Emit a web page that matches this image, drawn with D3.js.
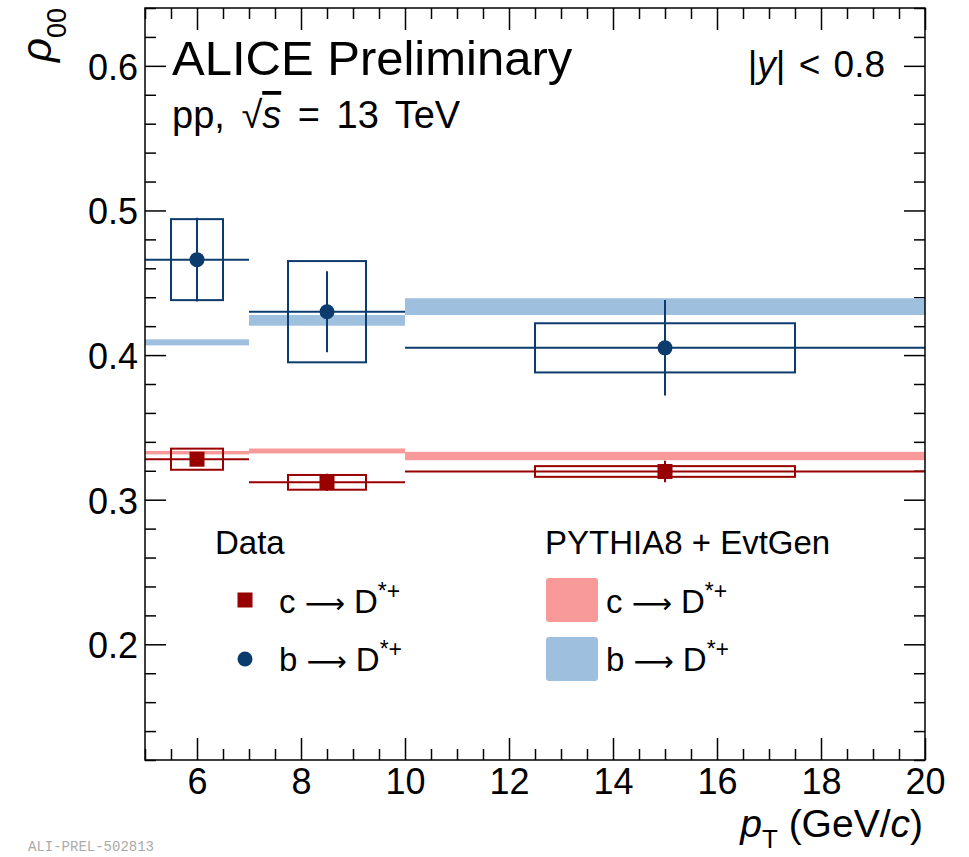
<!DOCTYPE html>
<html><head><meta charset="utf-8">
<script src="https://cdn.jsdelivr.net/npm/d3@7"></script>
<style>
body{margin:0;background:#fff}
text{font-family:"Liberation Sans",Arial,Helvetica,sans-serif;fill:#000}
</style>
</head><body>
<svg id="c" width="969" height="857"></svg>
<script>
// ---- data ----
const binLo = [5, 7, 10];
const binHi = [7, 10, 20];
const ptCenter = [6, 8.5, 15];
const systHalfWidth = [0.5, 0.75, 2.5];
// measured c -> D*+
const cVal  = [0.328, 0.312, 0.3195];
const cStat = [0.004, 0.006, 0.0075];
const cSyst = [0.0073, 0.0051, 0.0037];
// measured b -> D*+
const bVal  = [0.466, 0.430, 0.405];
const bStat = [0.029, 0.028, 0.033];
const bSyst = [0.028, 0.035, 0.017];
// PYTHIA8 + EvtGen
const cPy    = [0.3325, 0.3337, 0.3302];
const cPyUnc = [0.0012, 0.0017, 0.0029];
const bPy    = [0.4088, 0.4240, 0.4335];
const bPyUnc = [0.0021, 0.0037, 0.0058];
// ticks
const xTicks = [6, 8, 10, 12, 14, 16, 18, 20];
const yTicks = [0.2, 0.3, 0.4, 0.5, 0.6];

// ---- styles ----
const colC = "#990000", colB = "#0c3b6e";
const colCPy = "#f89a9a", colBPy = "#9fbfdf";

const svg = d3.select("#c");
const L = 145, R = 925, T = 8, B = 760;
const x = d3.scaleLinear().domain([5, 20]).range([L, R]);
const y = d3.scaleLinear().domain([0.12, 0.64]).range([B, T]);

const xMinor = d3.range(5, 20.001, 0.5).filter(v => Math.abs(v % 2) > 1e-6);
const yMinor = d3.range(0.12, 0.6401, 0.02).map(v => +v.toFixed(2)).filter(v => Math.abs(v * 10 - Math.round(v * 10)) > 1e-6);

function styleAxis(g) {
  g.select(".domain").remove();
  g.selectAll(".tick line").attr("stroke", "#000").attr("stroke-width", 1.5);
  g.selectAll(".tick text").style("font-size", "36px").attr("fill", "#000");
}
// bottom
svg.append("g").attr("transform", `translate(0,${B})`)
  .call(d3.axisBottom(x).tickValues(xTicks).tickSize(-22).tickPadding(8).tickFormat(d3.format("d"))).call(styleAxis);
svg.append("g").attr("transform", `translate(0,${B})`)
  .call(d3.axisBottom(x).tickValues(xMinor).tickSize(-11).tickFormat("")).call(styleAxis);
// top
svg.append("g").attr("transform", `translate(0,${T})`)
  .call(d3.axisTop(x).tickValues(xTicks).tickSize(-22).tickFormat("")).call(styleAxis);
svg.append("g").attr("transform", `translate(0,${T})`)
  .call(d3.axisTop(x).tickValues(xMinor).tickSize(-11).tickFormat("")).call(styleAxis);
// left
const gl = svg.append("g").attr("transform", `translate(${L},0)`)
  .call(d3.axisLeft(y).tickValues(yTicks).tickSize(-21).tickPadding(7).tickFormat(d3.format(".1f"))).call(styleAxis);
gl.selectAll(".tick text").attr("dy", "0.37em");
svg.append("g").attr("transform", `translate(${L},0)`)
  .call(d3.axisLeft(y).tickValues(yMinor).tickSize(-11).tickFormat("")).call(styleAxis);
// right
svg.append("g").attr("transform", `translate(${R},0)`)
  .call(d3.axisRight(y).tickValues(yTicks).tickSize(-21).tickFormat("")).call(styleAxis);
svg.append("g").attr("transform", `translate(${R},0)`)
  .call(d3.axisRight(y).tickValues(yMinor).tickSize(-11).tickFormat("")).call(styleAxis);

// ---- PYTHIA bands ----
function bands(vals, unc, col) {
  svg.append("g").selectAll("rect").data(vals).join("rect")
    .attr("x", (d, i) => x(binLo[i]))
    .attr("width", (d, i) => x(binHi[i]) - x(binLo[i]))
    .attr("y", (d, i) => y(d + unc[i]))
    .attr("height", (d, i) => y(d - unc[i]) - y(d + unc[i]))
    .attr("fill", col);
}
bands(bPy, bPyUnc, colBPy);
bands(cPy, cPyUnc, colCPy);

// ---- data ----
function dataSeries(vals, stat, syst, col, marker) {
  const g = svg.append("g");
  g.selectAll("rect.syst").data(vals).join("rect").attr("class", "syst")
    .attr("x", (d, i) => x(ptCenter[i] - systHalfWidth[i]))
    .attr("width", (d, i) => x(ptCenter[i] + systHalfWidth[i]) - x(ptCenter[i] - systHalfWidth[i]))
    .attr("y", (d, i) => y(d + syst[i]))
    .attr("height", (d, i) => y(d - syst[i]) - y(d + syst[i]))
    .attr("fill", "none").attr("stroke", col).attr("stroke-width", 2);
  g.selectAll("line.h").data(vals).join("line").attr("class", "h")
    .attr("x1", (d, i) => x(binLo[i])).attr("x2", (d, i) => x(binHi[i]))
    .attr("y1", d => y(d)).attr("y2", d => y(d))
    .attr("stroke", col).attr("stroke-width", 2);
  g.selectAll("line.v").data(vals).join("line").attr("class", "v")
    .attr("x1", (d, i) => x(ptCenter[i])).attr("x2", (d, i) => x(ptCenter[i]))
    .attr("y1", (d, i) => y(d + stat[i])).attr("y2", (d, i) => y(d - stat[i]))
    .attr("stroke", col).attr("stroke-width", 2);
  if (marker === "square") {
    g.selectAll("rect.m").data(vals).join("rect").attr("class", "m")
      .attr("x", (d, i) => x(ptCenter[i]) - 7.5).attr("y", d => y(d) - 7.5)
      .attr("width", 15).attr("height", 15).attr("fill", col);
  } else {
    g.selectAll("circle").data(vals).join("circle")
      .attr("cx", (d, i) => x(ptCenter[i])).attr("cy", d => y(d))
      .attr("r", 7.5).attr("fill", col);
  }
}
dataSeries(bVal, bStat, bSyst, colB, "circle");
dataSeries(cVal, cStat, cSyst, colC, "square");

// frame
svg.append("rect").attr("x", L).attr("y", T).attr("width", R - L).attr("height", B - T)
  .attr("fill", "none").attr("stroke", "#000").attr("stroke-width", 1.5);

// ---- texts ----
svg.append("text").attr("x", 172).attr("y", 75).style("font-size", "49px").text("ALICE Preliminary");
const pp = svg.append("text").attr("x", 172).attr("y", 128).style("font-size", "38px").style("word-spacing", "6px");
pp.append("tspan").text("pp,  \u221A");
pp.append("tspan").style("font-style", "italic").style("text-decoration", "overline").text("s");
pp.append("tspan").text(" = 13 TeV");

const yc = svg.append("text").attr("x", 885).attr("y", 77).attr("text-anchor", "end").style("font-size", "37px").style("word-spacing", "3px");
yc.append("tspan").text("|");
yc.append("tspan").style("font-style", "italic").text("y");
yc.append("tspan").text("| < 0.8");

// y title
const yt = svg.append("text").attr("transform", "translate(51,8) rotate(-90)").attr("text-anchor", "end");
yt.append("tspan").style("font-size", "42px").style("font-style", "italic").text("\u03C1");
yt.append("tspan").style("font-size", "27px").attr("dy", 15).text("00");

// x title
const xt = svg.append("text").attr("x", 923).attr("y", 837).attr("text-anchor", "end").style("font-size", "39px");
xt.append("tspan").style("font-style", "italic").text("p");
xt.append("tspan").style("font-size", "26px").attr("dy", 11).text("T");
xt.append("tspan").attr("dy", -11).text("  (GeV/");
xt.append("tspan").style("font-style", "italic").text("c");
xt.append("tspan").text(")");

// legend
svg.append("text").attr("x", 215).attr("y", 554).style("font-size", "33px").text("Data");
svg.append("text").attr("x", 545).attr("y", 554).style("font-size", "33px").text("PYTHIA8 + EvtGen");
function legLabel(xp, yp, q) {
  const t = svg.append("text").attr("x", xp).attr("y", yp).style("font-size", "33px");
  t.append("tspan").text(q + " ");
  t.append("tspan").style("font-family", "'DejaVu Sans'").style("font-size", "28px").text("\u27F6");
  t.append("tspan").text(" D");
  t.append("tspan").style("font-size", "23px").attr("dy", -14).text("*+");
}
svg.append("rect").attr("x", 237.5).attr("y", 592.5).attr("width", 15).attr("height", 15).attr("fill", colC);
svg.append("circle").attr("cx", 245).attr("cy", 659).attr("r", 7.5).attr("fill", colB);
legLabel(279, 613, "c");
legLabel(279, 671, "b");
svg.append("rect").attr("x", 546).attr("y", 578).attr("width", 52).attr("height", 44).attr("rx", 3).attr("fill", colCPy);
svg.append("rect").attr("x", 546).attr("y", 637).attr("width", 52).attr("height", 44).attr("rx", 3).attr("fill", colBPy);
legLabel(606, 613, "c");
legLabel(606, 671, "b");

svg.append("text").attr("x", 28).attr("y", 851).style("font-family", "'Liberation Mono',monospace")
  .style("font-size", "14px").style("fill", "#aaa").text("ALI-PREL-502813");
</script>
</body></html>
